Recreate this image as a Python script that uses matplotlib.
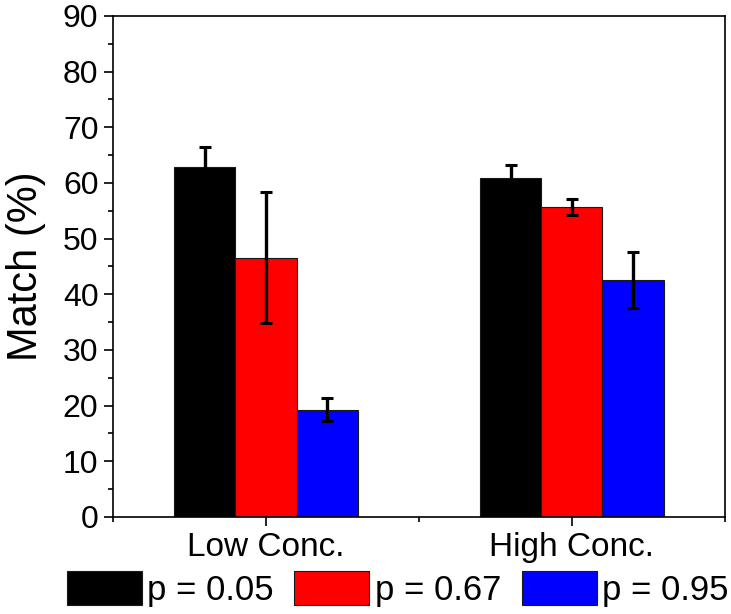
import matplotlib
matplotlib.use("Agg")
import matplotlib.pyplot as plt
from matplotlib.ticker import MultipleLocator, FixedLocator
import numpy as np

plt.rcParams['font.family'] = ['Liberation Sans', 'DejaVu Sans']

groups = ["Low Conc.", "High Conc."]
series_labels = ["p = 0.05", "p = 0.67", "p = 0.95"]
colors = ["#000000", "#ff0000", "#0000ff"]
values = {
    "p = 0.05": [62.8, 60.9],
    "p = 0.67": [46.6, 55.7],
    "p = 0.95": [19.3, 42.6],
}
errors = {
    "p = 0.05": [3.7, 2.3],
    "p = 0.67": [11.8, 1.4],
    "p = 0.95": [2.0, 5.0],
}

fig = plt.figure(figsize=(7.31, 6.14), dpi=100)
ax = fig.add_axes([0.1546, 0.158, 0.837, 0.816])

x = np.arange(1, len(groups) + 1)
width = 0.2
offsets = [-width, 0, width]
handles = []
for lab, col, off in zip(series_labels, colors, offsets):
    b = ax.bar(x + off, values[lab], width, color=col, edgecolor='#1a1a1a',
               linewidth=0.8, label=lab, zorder=2)
    ax.errorbar(x + off, values[lab], yerr=errors[lab], fmt='none',
                ecolor='black', elinewidth=2.4, capsize=4.5, capthick=2.2, zorder=3)
    handles.append(b)

ax.set_xlim(0.5, 2.5)
ax.set_ylim(0, 90)
ax.yaxis.set_major_locator(MultipleLocator(10))
ax.yaxis.set_minor_locator(MultipleLocator(5))
ax.set_xticks(x)
ax.set_xticklabels(groups, fontsize=24)
ax.xaxis.set_minor_locator(FixedLocator([0.5, 1.5, 2.5]))

ax.tick_params(axis='both', which='major', direction='out', length=6.5, width=1.2,
               labelsize=23, pad=4)
ax.tick_params(axis='x', which='major', labelsize=24)
ax.tick_params(axis='both', which='minor', direction='out', length=3.5, width=1.2)
ax.tick_params(top=False, right=False, which='both')
for s in ax.spines.values():
    s.set_linewidth(1.2)

ax.set_ylabel("Match (%)", fontsize=30, labelpad=12)

fig.legend(handles=handles, labels=series_labels, loc='lower center',
           bbox_to_anchor=(0.544, -0.022), ncol=3, frameon=False, fontsize=25,
           handlelength=2.16, handleheight=1.12, handletextpad=0.15,
           columnspacing=0.6, borderpad=0.1)

fig.savefig("out.png", dpi=100)
